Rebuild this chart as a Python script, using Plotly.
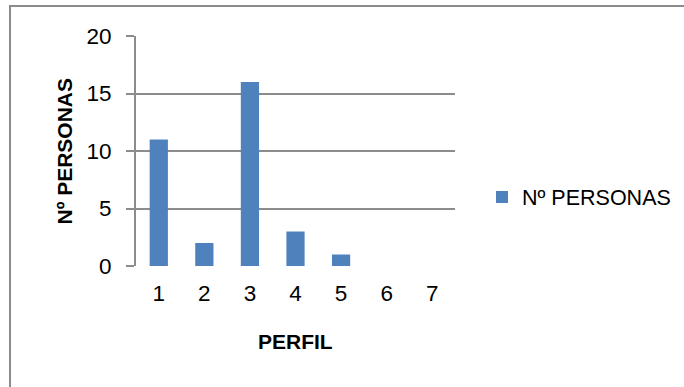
import plotly.graph_objects as go

# Profile categories and number of people in each
perfil = ["1", "2", "3", "4", "5", "6", "7"]
personas = [11, 2, 16, 3, 1, 0, 0]
y_ticks = [0, 5, 10, 15, 20]

serie = "Nº PERSONAS"
eje_x = "PERFIL"
eje_y = "Nº PERSONAS"

W, H = 684, 387
L, R, T, B = 136, 229, 36, 121
pw, ph = W - L - R, H - T - B

FONT = "Liberation Sans"
GRID = "#8c8c8c"


def px_x(p):
    return (p - L) / pw


def px_y(p):
    return (H - B - p) / ph


fig = go.Figure()
fig.add_trace(go.Bar(
    x=perfil, y=personas, name=serie,
    marker=dict(color="#4f81bd", line=dict(width=0)),
    width=0.4,
))

fig.update_layout(
    width=W, height=H,
    margin=dict(l=L, r=R, t=T, b=B, pad=0, autoexpand=False),
    paper_bgcolor="white", plot_bgcolor="white",
    font=dict(family=FONT, size=22, color="#000000"),
    showlegend=True,
    legend=dict(
        x=px_x(482), xanchor="left",
        y=px_y(197), yanchor="middle",
        font=dict(family=FONT, size=21.5, color="#000000"),
        bgcolor="rgba(0,0,0,0)", borderwidth=0,
    ),
    xaxis=dict(
        type="category", range=[-0.5, 6.5],
        showgrid=False, ticks="", showline=False, zeroline=False,
        tickfont=dict(family=FONT, size=22.5),
        ticklabelstandoff=11,
    ),
    yaxis=dict(
        range=[0, 20], tickvals=y_ticks,
        showgrid=True, gridcolor=GRID, gridwidth=2,
        zeroline=False,
        showline=True, linecolor=GRID, linewidth=2,
        ticks="outside", ticklen=8, tickcolor=GRID, tickwidth=2,
        tickfont=dict(family=FONT, size=22.5),
        ticklabelstandoff=10,
    ),
    annotations=[
        dict(text="<b>%s</b>" % eje_x, xref="paper", yref="paper",
             x=0.5, y=px_y(341), xanchor="center", yanchor="middle",
             showarrow=False, font=dict(family=FONT, size=21)),
        dict(text="<b>%s</b>" % eje_y, xref="paper", yref="paper",
             x=px_x(63.5), y=0.5, xanchor="center", yanchor="middle",
             textangle=-90, showarrow=False, font=dict(family=FONT, size=21)),
    ],
    shapes=[
        # chart-area frame (right and bottom edges fall outside the page)
        dict(type="rect", xref="paper", yref="paper",
             x0=px_x(10), x1=px_x(700), y0=px_y(6), y1=px_y(400),
             line=dict(color=GRID, width=2), fillcolor="rgba(0,0,0,0)",
             layer="below"),
    ],
)

fig.write_html("out.html")
